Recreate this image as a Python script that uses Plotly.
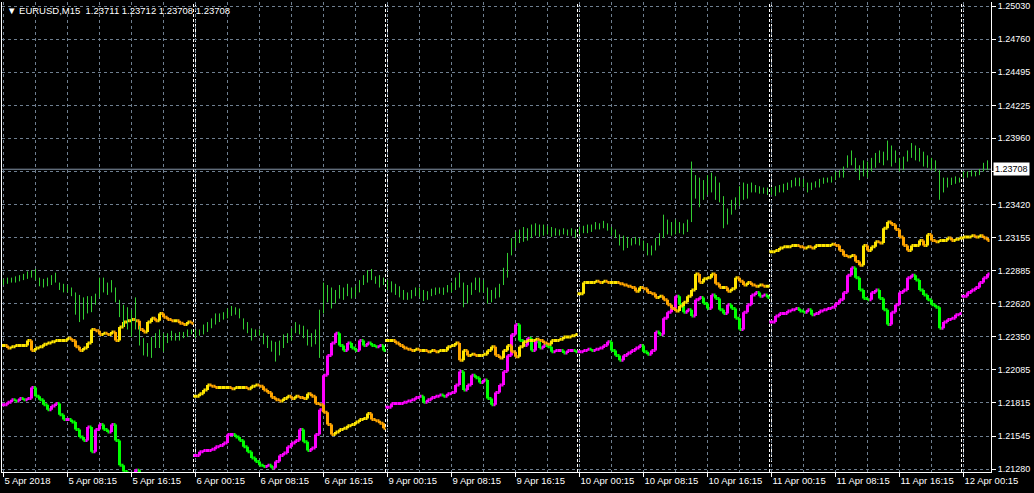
import plotly.graph_objects as go

# ---------------- data (EURUSD M15, sampled every 2nd bar) ----------------
# bar index of first sample of each day (M15 bar index, 0 = 5 Apr 00:15)
start_apr05, start_apr06, start_apr09, start_apr10, start_apr11, start_apr12 = 0, 96, 192, 288, 384, 480

main_high_apr05 = [1.2282,1.2283,1.2283,1.2284,1.2285,1.2286,1.2288,1.2289,1.2290,1.2283,1.2282,1.2283,1.2285,1.2287,1.2279,1.2278,1.2277,1.2275,1.2271,1.2269,1.2267,1.2268,1.2268,1.2270,1.2283,1.2283,1.2279,1.2281,1.2275,1.2265,1.2261,1.2259,1.2257,1.2267,1.2244,1.2234,1.2230,1.2235,1.2238,1.2241,1.2238,1.2238,1.2240,1.2238,1.2239,1.2239,1.2241,1.2241]
main_low_apr05 = [1.2277,1.2278,1.2279,1.2279,1.2280,1.2281,1.2282,1.2283,1.2281,1.2276,1.2275,1.2276,1.2277,1.2279,1.2273,1.2271,1.2271,1.2268,1.2253,1.2247,1.2249,1.2254,1.2255,1.2261,1.2267,1.2271,1.2269,1.2271,1.2263,1.2251,1.2243,1.2241,1.2235,1.2241,1.2228,1.2220,1.2219,1.2218,1.2226,1.2226,1.2223,1.2230,1.2232,1.2232,1.2232,1.2234,1.2235,1.2237]
main_high_apr06 = [1.2241,1.2241,1.2245,1.2247,1.2250,1.2254,1.2254,1.2255,1.2258,1.2260,1.2259,1.2258,1.2250,1.2247,1.2242,1.2241,1.2241,1.2238,1.2236,1.2232,1.2231,1.2232,1.2237,1.2238,1.2242,1.2247,1.2245,1.2244,1.2241,1.2238,1.2241,1.2257,1.2279,1.2277,1.2275,1.2273,1.2277,1.2275,1.2278,1.2275,1.2276,1.2281,1.2285,1.2289,1.2290,1.2284,1.2285,1.2283]
main_low_apr06 = [1.2234,1.2236,1.2237,1.2239,1.2242,1.2245,1.2247,1.2249,1.2250,1.2252,1.2253,1.2250,1.2241,1.2238,1.2232,1.2235,1.2236,1.2229,1.2226,1.2223,1.2215,1.2220,1.2226,1.2230,1.2232,1.2238,1.2237,1.2234,1.2228,1.2227,1.2229,1.2218,1.2254,1.2263,1.2258,1.2262,1.2266,1.2265,1.2268,1.2266,1.2267,1.2271,1.2277,1.2279,1.2281,1.2278,1.2275,1.2277]
main_high_apr09 = [1.2281,1.2280,1.2278,1.2276,1.2273,1.2271,1.2273,1.2275,1.2275,1.2273,1.2272,1.2274,1.2275,1.2275,1.2275,1.2277,1.2279,1.2283,1.2287,1.2279,1.2277,1.2279,1.2283,1.2283,1.2281,1.2275,1.2273,1.2275,1.2278,1.2291,1.2303,1.2315,1.2320,1.2322,1.2324,1.2323,1.2326,1.2327,1.2326,1.2326,1.2325,1.2324,1.2323,1.2322,1.2323,1.2322,1.2323,1.2322]
main_low_apr09 = [1.2273,1.2271,1.2269,1.2267,1.2265,1.2265,1.2266,1.2268,1.2267,1.2264,1.2265,1.2268,1.2269,1.2270,1.2269,1.2271,1.2271,1.2273,1.2275,1.2259,1.2262,1.2269,1.2273,1.2271,1.2271,1.2262,1.2263,1.2266,1.2267,1.2277,1.2283,1.2301,1.2307,1.2311,1.2312,1.2313,1.2315,1.2317,1.2316,1.2317,1.2318,1.2316,1.2317,1.2317,1.2318,1.2317,1.2317,1.2315]
main_high_apr10 = [1.2324,1.2325,1.2326,1.2326,1.2328,1.2327,1.2329,1.2327,1.2324,1.2322,1.2318,1.2317,1.2316,1.2315,1.2316,1.2315,1.2313,1.2311,1.2309,1.2315,1.2319,1.2334,1.2330,1.2328,1.2330,1.2328,1.2327,1.2330,1.2377,1.2366,1.2364,1.2362,1.2366,1.2368,1.2365,1.2360,1.2349,1.2339,1.2346,1.2348,1.2357,1.2360,1.2359,1.2360,1.2358,1.2357,1.2356,1.2356]
main_low_apr10 = [1.2318,1.2319,1.2319,1.2320,1.2322,1.2322,1.2323,1.2321,1.2317,1.2315,1.2309,1.2305,1.2307,1.2309,1.2310,1.2309,1.2305,1.2301,1.2301,1.2305,1.2309,1.2315,1.2318,1.2317,1.2318,1.2319,1.2318,1.2320,1.2328,1.2347,1.2340,1.2346,1.2350,1.2352,1.2346,1.2344,1.2323,1.2326,1.2334,1.2338,1.2341,1.2346,1.2347,1.2352,1.2352,1.2351,1.2351,1.2350]
main_high_apr11 = [1.2356,1.2357,1.2358,1.2359,1.2360,1.2362,1.2364,1.2364,1.2363,1.2360,1.2360,1.2361,1.2363,1.2364,1.2364,1.2365,1.2369,1.2370,1.2373,1.2382,1.2386,1.2380,1.2374,1.2378,1.2377,1.2380,1.2384,1.2386,1.2385,1.2394,1.2390,1.2386,1.2380,1.2381,1.2386,1.2392,1.2390,1.2388,1.2385,1.2382,1.2380,1.2378,1.2370,1.2364,1.2364,1.2364,1.2365,1.2364]
main_low_apr11 = [1.2350,1.2349,1.2352,1.2352,1.2354,1.2356,1.2357,1.2357,1.2356,1.2352,1.2354,1.2356,1.2356,1.2359,1.2360,1.2360,1.2362,1.2364,1.2364,1.2372,1.2374,1.2369,1.2362,1.2365,1.2364,1.2369,1.2372,1.2376,1.2374,1.2378,1.2373,1.2376,1.2369,1.2370,1.2377,1.2380,1.2378,1.2377,1.2373,1.2372,1.2370,1.2369,1.2346,1.2352,1.2356,1.2358,1.2359,1.2360]
main_high_apr12 = [1.2369,1.2369,1.2370,1.2369,1.2371,1.2376,1.2378]
main_low_apr12 = [1.2364,1.2364,1.2365,1.2365,1.2366,1.2369,1.2370]

# overlay A (yellow up / orange down)
ovl_a_apr05 = [1.2228,1.2226,1.2227,1.2228,1.2228,1.2228,1.2232,1.2224,1.2226,1.2227,1.2229,1.2230,1.2231,1.2232,1.2232,1.2232,1.2234,1.2232,1.2227,1.2224,1.2226,1.2230,1.2241,1.2240,1.2237,1.2238,1.2237,1.2239,1.2232,1.2243,1.2247,1.2248,1.2249,1.2248,1.2241,1.2239,1.2247,1.2250,1.2248,1.2254,1.2251,1.2249,1.2248,1.2248,1.2246,1.2245,1.2247,1.2246]
ovl_a_apr06 = [1.2187,1.2189,1.2192,1.2196,1.2195,1.2194,1.2194,1.2194,1.2194,1.2193,1.2194,1.2194,1.2194,1.2193,1.2195,1.2196,1.2195,1.2192,1.2190,1.2186,1.2184,1.2183,1.2185,1.2187,1.2185,1.2187,1.2186,1.2185,1.2189,1.2187,1.2181,1.2180,1.2174,1.2164,1.2156,1.2158,1.2160,1.2161,1.2163,1.2164,1.2166,1.2168,1.2169,1.2173,1.2168,1.2167,1.2165,1.2161]
ovl_a_apr09 = [1.2232,1.2232,1.2230,1.2228,1.2226,1.2225,1.2224,1.2225,1.2224,1.2224,1.2223,1.2224,1.2223,1.2224,1.2224,1.2227,1.2228,1.2230,1.2216,1.2224,1.2220,1.2221,1.2220,1.2220,1.2221,1.2224,1.2227,1.2220,1.2218,1.2224,1.2228,1.2223,1.2219,1.2227,1.2231,1.2232,1.2232,1.2233,1.2232,1.2230,1.2229,1.2232,1.2232,1.2233,1.2235,1.2235,1.2236,1.2237]
ovl_a_apr10 = [1.2270,1.2279,1.2279,1.2279,1.2280,1.2279,1.2280,1.2279,1.2279,1.2279,1.2278,1.2277,1.2276,1.2275,1.2272,1.2275,1.2274,1.2271,1.2270,1.2267,1.2268,1.2265,1.2261,1.2258,1.2256,1.2260,1.2263,1.2268,1.2273,1.2286,1.2279,1.2282,1.2283,1.2286,1.2278,1.2275,1.2275,1.2272,1.2274,1.2283,1.2280,1.2277,1.2279,1.2277,1.2276,1.2277,1.2276,1.2276]
ovl_a_apr11 = [1.2304,1.2305,1.2307,1.2308,1.2308,1.2309,1.2309,1.2308,1.2307,1.2308,1.2307,1.2309,1.2309,1.2309,1.2309,1.2310,1.2309,1.2305,1.2301,1.2300,1.2301,1.2296,1.2293,1.2309,1.2305,1.2308,1.2312,1.2311,1.2323,1.2328,1.2326,1.2322,1.2316,1.2309,1.2305,1.2309,1.2309,1.2313,1.2309,1.2318,1.2313,1.2312,1.2313,1.2313,1.2315,1.2313,1.2314,1.2315,1.2316,1.2316,1.2317,1.2316,1.2317,1.2315,1.2313]

# overlay B (magenta up / green down)
ovl_b_apr05 = [1.2180,1.2182,1.2184,1.2183,1.2185,1.2184,1.2185,1.2194,1.2187,1.2184,1.2180,1.2176,1.2179,1.2181,1.2172,1.2168,1.2168,1.2166,1.2160,1.2154,1.2151,1.2162,1.2142,1.2160,1.2164,1.2160,1.2158,1.2164,1.2151,1.2131,1.2126,1.2121,1.2117,1.2127,1.2116,1.2114,1.2113,1.2113,1.2113,1.2112,1.2111,1.2111,1.2112,1.2111,1.2110,1.2111,1.2110,1.2109]
ovl_b_apr06 = [1.2139,1.2142,1.2143,1.2143,1.2144,1.2146,1.2147,1.2149,1.2156,1.2156,1.2154,1.2151,1.2146,1.2142,1.2137,1.2134,1.2131,1.2130,1.2131,1.2129,1.2134,1.2139,1.2141,1.2146,1.2149,1.2151,1.2160,1.2150,1.2143,1.2145,1.2156,1.2176,1.2204,1.2220,1.2230,1.2238,1.2228,1.2224,1.2230,1.2226,1.2224,1.2232,1.2228,1.2230,1.2228,1.2227,1.2228,1.2224]
ovl_b_apr09 = [1.2178,1.2181,1.2181,1.2181,1.2182,1.2183,1.2184,1.2186,1.2187,1.2182,1.2184,1.2186,1.2187,1.2188,1.2187,1.2189,1.2190,1.2196,1.2207,1.2192,1.2196,1.2204,1.2202,1.2198,1.2200,1.2185,1.2180,1.2190,1.2196,1.2207,1.2220,1.2237,1.2245,1.2232,1.2228,1.2234,1.2224,1.2231,1.2226,1.2228,1.2227,1.2223,1.2224,1.2224,1.2222,1.2224,1.2224,1.2223]
ovl_b_apr10 = [1.2223,1.2224,1.2225,1.2224,1.2225,1.2226,1.2228,1.2231,1.2224,1.2220,1.2216,1.2220,1.2222,1.2224,1.2226,1.2228,1.2223,1.2221,1.2224,1.2239,1.2237,1.2250,1.2255,1.2258,1.2268,1.2261,1.2255,1.2257,1.2252,1.2265,1.2267,1.2262,1.2258,1.2269,1.2266,1.2257,1.2254,1.2261,1.2258,1.2250,1.2241,1.2255,1.2261,1.2269,1.2271,1.2268,1.2269,1.2267]
ovl_b_apr11 = [1.2247,1.2252,1.2254,1.2254,1.2256,1.2257,1.2258,1.2256,1.2255,1.2257,1.2253,1.2254,1.2256,1.2257,1.2258,1.2259,1.2262,1.2265,1.2271,1.2285,1.2291,1.2283,1.2273,1.2266,1.2265,1.2271,1.2273,1.2266,1.2257,1.2245,1.2255,1.2261,1.2271,1.2273,1.2283,1.2285,1.2281,1.2273,1.2269,1.2265,1.2261,1.2259,1.2242,1.2247,1.2249,1.2250,1.2253,1.2254]
ovl_b_apr12 = [1.2268,1.2271,1.2273,1.2275,1.2279,1.2283,1.2286]

x_tick_bars = list(range(0, 481, 32))
x_tick_labels = ["5 Apr 2018", "5 Apr 08:15", "5 Apr 16:15", "6 Apr 00:15", "6 Apr 08:15", "6 Apr 16:15",
                 "9 Apr 00:15", "9 Apr 08:15", "9 Apr 16:15", "10 Apr 00:15", "10 Apr 08:15", "10 Apr 16:15",
                 "11 Apr 00:15", "11 Apr 08:15", "11 Apr 16:15", "12 Apr 00:15"]
day_separator_bars = [95, 191, 287, 383, 479]
y_tick_values = [1.25030, 1.24760, 1.24495, 1.24225, 1.23960, 1.23690, 1.23420, 1.23155,
                 1.22885, 1.22620, 1.22350, 1.22085, 1.21815, 1.21545, 1.21280]
current_price = 1.23708
title_text = "\u25BC EURUSD,M15\u00a0\u00a01.23711 1.23712 1.23708 1.23708"

# ---------------- build traces ----------------
main_days = [(start_apr05, main_high_apr05, main_low_apr05), (start_apr06, main_high_apr06, main_low_apr06),
             (start_apr09, main_high_apr09, main_low_apr09), (start_apr10, main_high_apr10, main_low_apr10),
             (start_apr11, main_high_apr11, main_low_apr11), (start_apr12, main_high_apr12, main_low_apr12)]
mx, my = [], []
for st, hi, lo in main_days:
    for k, (h, l) in enumerate(zip(hi, lo)):
        xi = st + 2 * k
        mx += [xi, xi, None]
        my += [l, h, None]


def ohlc_split(segments):
    """Return (up_bars, down_bars); flat bars count as up."""
    up = ([], [], [], [], [])
    dn = ([], [], [], [], [])
    for st, vals in segments:
        prev = vals[0]
        for k, v in enumerate(vals):
            tgt = up if v >= prev else dn
            tgt[0].append(st + 2 * k)
            tgt[1].append(prev)
            tgt[2].append(max(prev, v))
            tgt[3].append(min(prev, v))
            tgt[4].append(v)
            prev = v
    return up, dn


def add_ohlc(fig, bars, color, width):
    x, o, h, l, c = bars
    fig.add_trace(go.Ohlc(x=x, open=o, high=h, low=l, close=c, tickwidth=0.5,
                          increasing=dict(line=dict(color=color, width=width)),
                          decreasing=dict(line=dict(color=color, width=width)),
                          hoverinfo="skip"))


a_segments = [(start_apr05, ovl_a_apr05), (start_apr06, ovl_a_apr06), (start_apr09, ovl_a_apr09),
              (start_apr10, ovl_a_apr10), (start_apr11, ovl_a_apr11)]
b_segments = [(start_apr05, ovl_b_apr05), (start_apr06, ovl_b_apr06), (start_apr09, ovl_b_apr09),
              (start_apr10, ovl_b_apr10), (start_apr11, ovl_b_apr11), (start_apr12, ovl_b_apr12)]

fig = go.Figure()
fig.add_trace(go.Scatter(x=mx, y=my, mode="lines", line=dict(color="#32CD32", width=1),
                         hoverinfo="skip", connectgaps=False))

b_up, b_dn = ohlc_split(b_segments)
add_ohlc(fig, b_dn, "#00FF00", 3)
add_ohlc(fig, b_up, "#FF00FF", 3)
a_up, a_dn = ohlc_split(a_segments)
add_ohlc(fig, a_dn, "#FFA500", 3)
add_ohlc(fig, a_up, "#FFE600", 3)

shapes = []
for d in day_separator_bars:
    for off in (0, 1):
        shapes.append(dict(type="line", xref="x", yref="paper", x0=d + off, x1=d + off, y0=0, y1=1,
                           line=dict(color="white", width=1, dash="3px,2px"), layer="below"))
shapes.append(dict(type="line", xref="paper", yref="y", x0=0, x1=1, y0=current_price, y1=current_price,
                   line=dict(color="#8495A8", width=1), layer="below"))

grid_col = "#6F7F90"
fig.update_layout(
    width=1034, height=493,
    margin=dict(l=2, r=43, t=2, b=21, pad=0),
    paper_bgcolor="black", plot_bgcolor="black",
    showlegend=False,
    font=dict(family="Liberation Sans, Arial, sans-serif", color="white", size=9.5),
    shapes=shapes,
    xaxis=dict(range=[-0.75, 493.75], tickmode="array", tickvals=x_tick_bars, ticktext=x_tick_labels,
               ticks="outside", ticklen=4, tickcolor="white", tickwidth=1,
               ticklabelposition="outside right", tickfont=dict(size=9.5, color="white"),
               showgrid=True, gridcolor=grid_col, griddash="3px,3px", gridwidth=1,
               minor=dict(tickmode="array", tickvals=list(range(0, 494, 16)), showgrid=True,
                          gridcolor=grid_col, griddash="3px,3px", gridwidth=1, ticks=""),
               showline=True, linecolor="white", linewidth=1, mirror=False,
               zeroline=False, automargin=False, rangeslider=dict(visible=False), fixedrange=True),
    yaxis=dict(range=[1.212557, 1.250624], side="right", tickmode="array", tickvals=y_tick_values,
               ticktext=[("" if v == 1.23690 else f"{v:.5f}") for v in y_tick_values],
               ticks="outside", ticklen=4, tickcolor="white", tickwidth=1,
               tickfont=dict(size=9, color="white"),
               showgrid=True, gridcolor=grid_col, griddash="3px,3px", gridwidth=1,
               showline=True, linecolor="white", linewidth=1, mirror=True,
               zeroline=False, automargin=False, fixedrange=True),
    annotations=[
        dict(text=title_text, xref="paper", yref="paper", x=0, y=1, xanchor="left", yanchor="top",
             xshift=3, yshift=-1, showarrow=False, font=dict(size=9.5, color="white")),
        dict(text=f"{current_price:.5f}", xref="paper", yref="y", x=1, y=current_price,
             xanchor="left", yanchor="middle", xshift=2, showarrow=False, bgcolor="white",
             borderpad=1, font=dict(size=9, color="black")),
    ],
)

fig.write_html("out.html", config={"displayModeBar": False, "staticPlot": True},
               post_script="document.body.style.margin='0';document.body.style.background='black';")
